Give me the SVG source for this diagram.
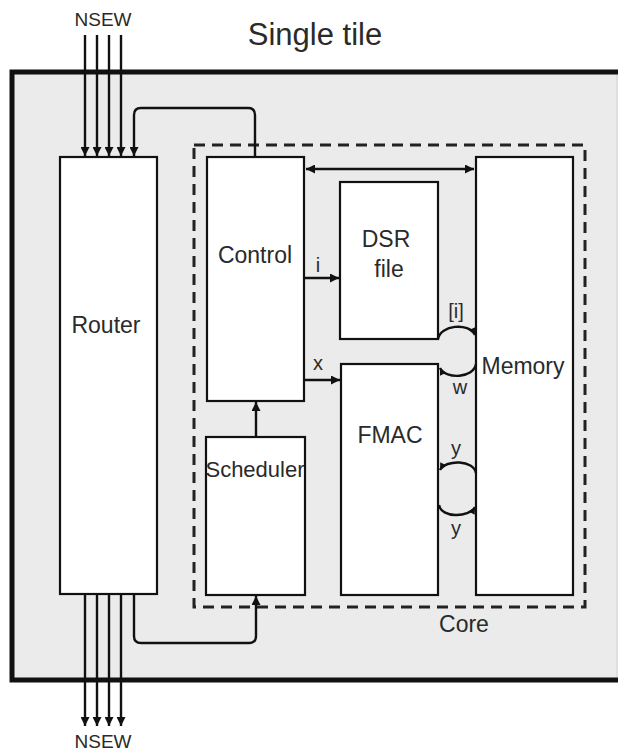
<svg xmlns="http://www.w3.org/2000/svg" width="618" height="751" viewBox="0 0 618 751">
<style>
text{font-family:"Liberation Sans",Arial,sans-serif;fill:#2a2a2a;text-anchor:middle}
.lbl{font-size:23px}
.sm{font-size:20px}
.box{fill:#fff;stroke:#111;stroke-width:2.2}
.ln{fill:none;stroke:#111;stroke-width:2.4;stroke-linejoin:round}
</style>
<defs>
<marker id="ah" viewBox="0 0 10 10" refX="10" refY="5" markerWidth="10" markerHeight="9" markerUnits="userSpaceOnUse" orient="auto-start-reverse">
<path d="M0,0 L10,5 L0,10 Z" fill="#111"/>
</marker>
<marker id="as" viewBox="0 0 10 10" refX="10" refY="5" markerWidth="8" markerHeight="7" markerUnits="userSpaceOnUse" orient="auto">
<path d="M0,0 L10,5 L0,10 Z" fill="#111"/>
</marker>
</defs>
<rect width="618" height="751" fill="#fff"/>
<g id="title"><text x="315" y="45" style="font-size:31px">Single tile</text></g>
<g id="tile">
<rect x="12" y="72" width="620" height="608" fill="#ebebeb" stroke="#111" stroke-width="5"/>
<line x1="617" y1="75" x2="617" y2="677" stroke="#d0d0d0" stroke-width="1"/>
</g>
<g id="core">
<rect x="194" y="145" width="391" height="462" fill="none" stroke="#222" stroke-width="3" stroke-dasharray="11,7"/>
<text class="lbl" x="464" y="632">Core</text>
</g>
<g id="router"><rect class="box" x="60" y="157" width="97" height="437"/><text class="lbl" x="106" y="333">Router</text></g>
<g id="control"><rect class="box" x="207" y="157" width="97" height="244"/><text class="lbl" x="255" y="263">Control</text></g>
<g id="scheduler"><rect class="box" x="206" y="437" width="99" height="158"/><text x="255" y="477" style="font-size:22px">Scheduler</text></g>
<g id="dsr"><rect class="box" x="340" y="182" width="98" height="157"/><text class="lbl" x="386" y="247">DSR</text><text class="lbl" x="389" y="277">file</text></g>
<g id="fmac"><rect class="box" x="341" y="364" width="97" height="231"/><text class="lbl" x="390" y="443">FMAC</text></g>
<g id="memory"><rect class="box" x="476" y="157" width="97" height="438"/><text class="lbl" x="523" y="374">Memory</text></g>
<g id="connectors">
<g id="nsew-in">
<text x="103" y="26" style="font-size:19px">NSEW</text>
<line class="ln" x1="85" y1="35" x2="85" y2="156" marker-end="url(#ah)"/>
<line class="ln" x1="97" y1="35" x2="97" y2="156" marker-end="url(#ah)"/>
<line class="ln" x1="109" y1="35" x2="109" y2="156" marker-end="url(#ah)"/>
<line class="ln" x1="121" y1="35" x2="121" y2="156" marker-end="url(#ah)"/>
</g>
<g id="nsew-out">
<text x="103" y="748" style="font-size:19px">NSEW</text>
<line class="ln" x1="85" y1="595" x2="85" y2="726" marker-end="url(#ah)"/>
<line class="ln" x1="97" y1="595" x2="97" y2="726" marker-end="url(#ah)"/>
<line class="ln" x1="109" y1="595" x2="109" y2="726" marker-end="url(#ah)"/>
<line class="ln" x1="121" y1="595" x2="121" y2="726" marker-end="url(#ah)"/>
</g>
<path class="ln" d="M255,157 V115 Q255,108 248,108 H141 Q134,108 134,115 V156" marker-end="url(#ah)"/>
<path class="ln" d="M134,595 V636 Q134,643 141,643 H249 Q256,643 256,636 V596" marker-end="url(#ah)"/>
<line class="ln" x1="256" y1="437" x2="256" y2="402" marker-end="url(#ah)"/>
<line class="ln" x1="306" y1="169" x2="474" y2="169" marker-start="url(#ah)" marker-end="url(#ah)"/>
<line class="ln" x1="304" y1="278" x2="339" y2="278" marker-end="url(#ah)"/>
<text class="sm" x="318" y="272">i</text>
<line class="ln" x1="304" y1="380" x2="340" y2="380" marker-end="url(#ah)"/>
<text class="sm" x="318" y="370">x</text>
<path class="ln" d="M438,339 C440,325 469,322 475,335" marker-end="url(#as)"/>
<text class="sm" x="456" y="318">[i]</text>
<path class="ln" d="M476,364 C474,378 446,380 440,368" marker-end="url(#as)"/>
<text class="sm" x="460" y="394">w</text>
<path class="ln" d="M476,473 C474,460 446,459 440,470" marker-end="url(#as)"/>
<text class="sm" x="456" y="455">y</text>
<path class="ln" d="M439,505 C441,518 469,518 475,507" marker-end="url(#as)"/>
<text class="sm" x="456" y="535">y</text>
</g>
</svg>
